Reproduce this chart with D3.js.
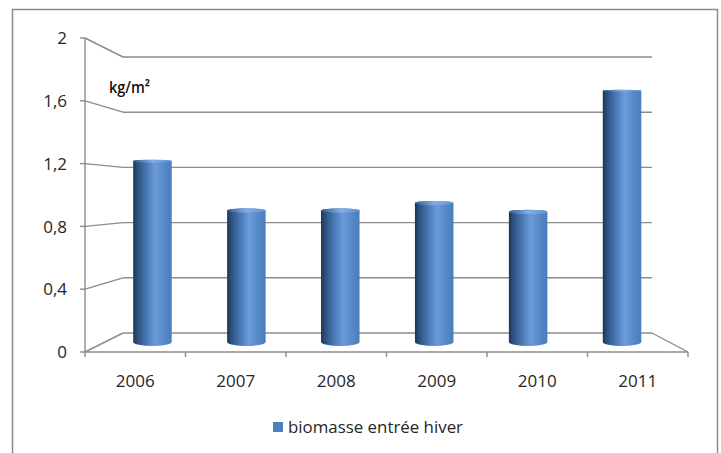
<!DOCTYPE html>
<html>
<head>
<meta charset="utf-8">
<script src="https://cdn.jsdelivr.net/npm/d3@7"></script>
<style>
  html, body { margin: 0; padding: 0; background: #fff; }
  svg { display: block; }
  text { font-family: "Open Sans", "Noto Sans", sans-serif; fill: #262626; }
</style>
</head>
<body>
<div id="chart"></div>
<script>
// ---- data ----
const categories = ["2006", "2007", "2008", "2009", "2010", "2011"];
const values = [1.23, 0.895, 0.895, 0.945, 0.885, 1.71];
const yTicks = [0, 0.4, 0.8, 1.2, 1.6, 2];
const yTickLabels = ["0", "0,4", "0,8", "1,2", "1,6", "2"];
const seriesName = "biomasse entrée hiver";
const unitLabel = "kg/m²";

// ---- layout ----
const W = 721, H = 453;
const svg = d3.select("#chart").append("svg").attr("width", W).attr("height", H);

// outer frame
svg.append("rect").attr("x", 12.5).attr("y", 9.5).attr("width", 705).attr("height", 470)
  .attr("fill", "none").attr("stroke", "#8a8a8a").attr("stroke-width", 1.5);

// scales: front plane, back wall, and bar depth (3D perspective)
const xFront = d3.scaleBand().domain(categories).range([85, 688]);
const xBack = d3.scaleBand().domain(categories).range([123, 652]);
const xBar = d3.scaleBand().domain(categories).range([105.5, 669]);
const yFront = d3.scaleLinear().domain([0, 2]).range([352, 38]);
const yBack = d3.scaleLinear().domain([0, 2]).range([333, 57]);
const yBar = d3.scaleLinear().domain([0, 2]).range([342, 48]);

const gridColor = "#8c8c8c";
const grid = svg.append("g").attr("fill", "none").attr("stroke", gridColor).attr("stroke-width", 1.4);

// back wall gridlines and side wall obliques
yTicks.forEach(v => {
  grid.append("line").attr("x1", xBack.range()[0]).attr("x2", xBack.range()[1])
    .attr("y1", yBack(v)).attr("y2", yBack(v));
  grid.append("line").attr("x1", xFront.range()[0]).attr("y1", yFront(v))
    .attr("x2", xBack.range()[0]).attr("y2", yBack(v));
});
// floor right edge
grid.append("line").attr("x1", xBack.range()[1]).attr("y1", yBack(0))
  .attr("x2", xFront.range()[1]).attr("y2", yFront(0));

// ---- bars (cylinders) ----
const defs = svg.append("defs");
const grad = defs.append("linearGradient").attr("id", "cyl").attr("x1", 0).attr("x2", 1).attr("y1", 0).attr("y2", 0);
[[0, "#1d3453"], [0.1, "#2b4f7d"], [0.32, "#4675b0"], [0.57, "#6b9cda"], [0.8, "#5789c8"], [1, "#4a7dbb"]]
  .forEach(([o, c]) => grad.append("stop").attr("offset", o).attr("stop-color", c));
const gradTop = defs.append("linearGradient").attr("id", "cyltop").attr("x1", 0).attr("x2", 1).attr("y1", 0).attr("y2", 0);
[[0, "#3a629a"], [0.5, "#86afe4"], [1, "#6596d4"]]
  .forEach(([o, c]) => gradTop.append("stop").attr("offset", o).attr("stop-color", c));

const eyeY = 50;
const ryAt = y => Math.max(1, 4 * (y - eyeY) / (yBar(0) - eyeY));
const barW = xBar.bandwidth() * 0.41;

const bars = svg.append("g");
categories.forEach((c, i) => {
  const cx = xBar(c) + xBar.bandwidth() / 2;
  const x0 = cx - barW / 2, x1 = cx + barW / 2;
  const yb = yBar(0), ryb = ryAt(yb);
  const ryt = ryAt(yBar(values[i]));
  const yt = yBar(values[i]);
  const rx = barW / 2;
  const p = `M${x0},${yt} L${x0},${yb} A${rx},${ryb} 0 0 0 ${x1},${yb} L${x1},${yt} A${rx},${ryt} 0 0 0 ${x0},${yt} Z`;
  bars.append("path").attr("d", p).attr("fill", "url(#cyl)");
  bars.append("ellipse").attr("cx", cx).attr("cy", yt).attr("rx", rx).attr("ry", ryt)
    .attr("fill", "url(#cyltop)").attr("opacity", 0.9);
});

// ---- front axes ----
const axis = svg.append("g").attr("stroke", gridColor).attr("stroke-width", 1.4).attr("fill", "none");
axis.append("line").attr("x1", 85).attr("x2", 85).attr("y1", yFront(2)).attr("y2", yFront(0));
axis.append("line").attr("x1", xFront.range()[0]).attr("x2", xFront.range()[1]).attr("y1", yFront(0)).attr("y2", yFront(0));
yTicks.forEach(v => axis.append("line").attr("x1", 80).attr("x2", 85).attr("y1", yFront(v)).attr("y2", yFront(v)));
const catTicks = categories.map(c => xFront(c)).concat([xFront.range()[1]]);
catTicks.forEach(x => axis.append("line").attr("x1", x).attr("x2", x).attr("y1", yFront(0)).attr("y2", yFront(0) + 5));

// y tick labels
svg.append("g").selectAll("text").data(yTicks).join("text")
  .attr("x", 67).attr("y", d => yFront(d)).attr("dy", "0.36em")
  .attr("text-anchor", "end").attr("font-size", 17)
  .text((d, i) => yTickLabels[i]);

// category labels
svg.append("g").selectAll("text").data(categories).join("text")
  .attr("x", d => xFront(d) + xFront.bandwidth() / 2).attr("y", 387)
  .attr("text-anchor", "middle").attr("font-size", 17)
  .text(d => d);

// unit label
svg.append("text").attr("x", 109).attr("y", 93).attr("font-size", 16).attr("font-weight", 600)
  .attr("textLength", 41).attr("lengthAdjust", "spacingAndGlyphs")
  .style("fill", "#111").text(unitLabel);

// legend
svg.append("rect").attr("x", 273).attr("y", 422).attr("width", 10).attr("height", 10).attr("fill", "#4f81bd");
svg.append("text").attr("x", 288).attr("y", 433).attr("font-size", 17)
  .attr("textLength", 175).attr("lengthAdjust", "spacingAndGlyphs").text(seriesName);
</script>
</body>
</html>
